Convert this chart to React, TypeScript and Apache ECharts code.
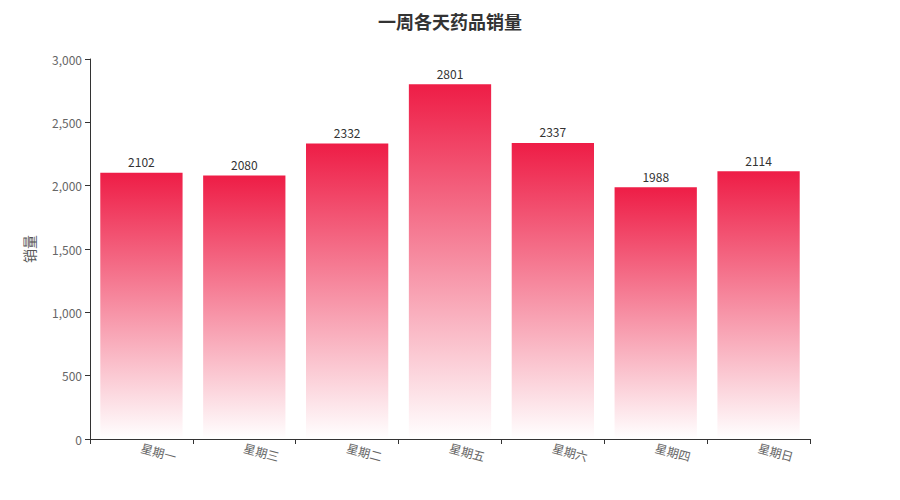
import React, { useEffect, useRef } from "react";
import * as echarts from "echarts";

const days = ["星期一", "星期三", "星期二", "星期五", "星期六", "星期四", "星期日"];
const sales = [2102, 2080, 2332, 2801, 2337, 1988, 2114];
const titleText = "一周各天药品销量";
const yName = "销量";

export default function App() {
  const ref = useRef<HTMLDivElement>(null);
  useEffect(() => {
    if (!ref.current) return;
    const chart = echarts.init(ref.current, undefined, { renderer: "svg" });
    const font = "'Noto Sans CJK SC', 'Noto Sans', sans-serif";
    chart.setOption({
      animation: false,
      textStyle: { fontFamily: font },
      title: {
        text: titleText,
        left: "center",
        top: 7,
        textStyle: { fontSize: 18, fontWeight: "bold", color: "#333", fontFamily: font },
      },
      grid: { left: 90, right: 90, top: 59, bottom: 61, containLabel: false },
      xAxis: {
        type: "category",
        data: days,
        axisLine: { lineStyle: { color: "#333" } },
        axisTick: { show: true, lineStyle: { color: "#333" } },
        axisLabel: { rotate: -15, color: "#666", fontSize: 12, fontFamily: font, margin: 8 },
      },
      yAxis: {
        type: "value",
        min: 0,
        max: 3000,
        interval: 500,
        name: yName,
        nameLocation: "middle",
        nameGap: 54,
        nameTextStyle: { fontSize: 14, color: "#555", fontFamily: font },
        axisLine: { show: true, lineStyle: { color: "#333" } },
        axisTick: { show: true, lineStyle: { color: "#333" } },
        splitLine: { show: false },
        axisLabel: { color: "#666", fontSize: 12, fontFamily: font },
      },
      series: [
        {
          type: "bar",
          data: sales,
          barWidth: "80%",
          label: { show: true, position: "top", color: "#333", fontSize: 12, fontFamily: font },
          itemStyle: {
            color: new echarts.graphic.LinearGradient(0, 0, 0, 1, [
              { offset: 0, color: "rgba(238,29,70,1)" },
              { offset: 1, color: "rgba(238,29,70,0)" },
            ]),
          },
        },
      ],
    });
    return () => chart.dispose();
  }, []);
  return (
    <div
      ref={ref}
      style={{ position: "absolute", left: 0, top: 0, width: 900, height: 500 }}
    />
  );
}
